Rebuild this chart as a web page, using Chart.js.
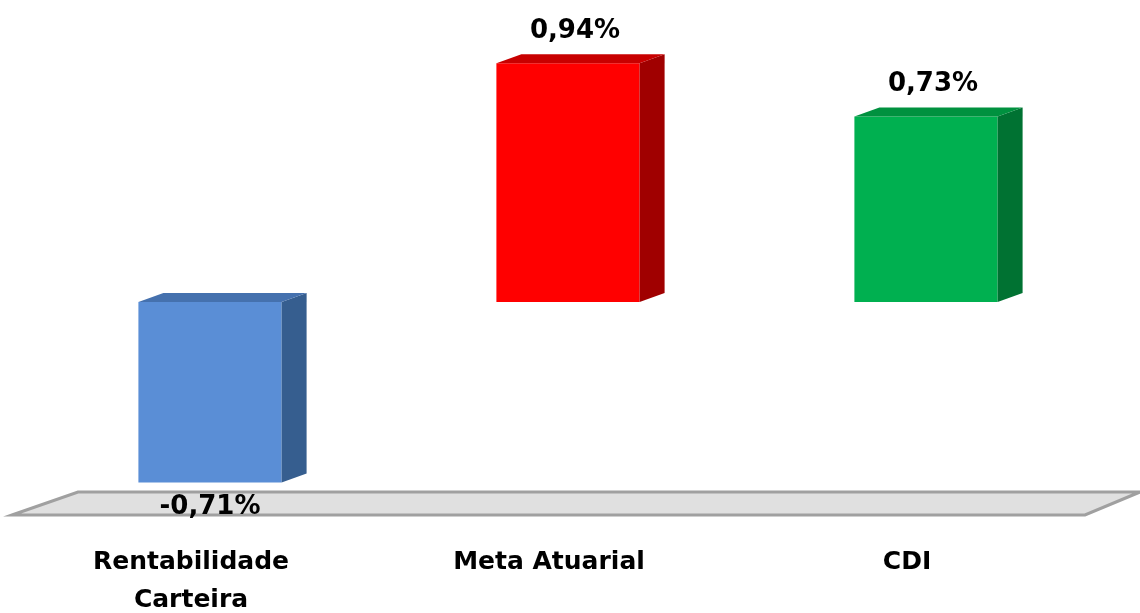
<!DOCTYPE html>
<html>
<head>
<meta charset="utf-8">
<script src="https://cdn.jsdelivr.net/npm/chart.js@4"></script>
<style>
  html, body { margin: 0; padding: 0; background: #fff; }
  #wrap { width: 1140px; height: 613px; }
</style>
</head>
<body>
<div id="wrap"><canvas id="chart" width="1140" height="613"></canvas></div>
<script>
// Data
const categories = [['Rentabilidade', 'Carteira'], 'Meta Atuarial', 'CDI'];
const values = [-0.71, 0.94, 0.73];

// Colours: front, side, top faces
const frontColors = ['#5A8ED6', '#FF0000', '#00B050'];
const sideColors = ['#365E8F', '#A00000', '#007232'];
const topColors = ['#4571AE', '#C80000', '#00913F'];

const FONT = '"DejaVu Sans", sans-serif';
const DX = 25, DY = 9; // 3D depth

function fmt(v) {
    return v.toFixed(2).replace('.', ',') + '%';
}

const bar3d = {
    id: 'bar3d',
    beforeDatasetsDraw(chart) {
        // grey floor
        const { ctx, chartArea } = chart;
        const yb = chartArea.bottom - 4;
        const yt = yb - 23;
        const xl = chartArea.left - 19;
        const xr = chartArea.right - 20;
        ctx.save();
        ctx.beginPath();
        ctx.moveTo(xl, yb);
        ctx.lineTo(xl + 66, yt);
        ctx.lineTo(xr + 55, yt);
        ctx.lineTo(xr, yb);
        ctx.closePath();
        ctx.fillStyle = '#E0E0E0';
        ctx.fill();
        ctx.lineWidth = 3;
        ctx.strokeStyle = '#A0A0A0';
        ctx.stroke();
        ctx.restore();
    },
    afterDatasetsDraw(chart) {
        const { ctx } = chart;
        const meta = chart.getDatasetMeta(0);
        ctx.save();
        meta.data.forEach((bar, i) => {
            const p = bar.getProps(['x', 'y', 'base', 'width'], true);
            const left = p.x - p.width / 2;
            const right = p.x + p.width / 2;
            const top = Math.min(p.y, p.base);
            const bottom = Math.max(p.y, p.base);
            // side face
            ctx.beginPath();
            ctx.moveTo(right, top);
            ctx.lineTo(right + DX, top - DY);
            ctx.lineTo(right + DX, bottom - DY);
            ctx.lineTo(right, bottom);
            ctx.closePath();
            ctx.fillStyle = sideColors[i];
            ctx.fill();
            // top face
            ctx.beginPath();
            ctx.moveTo(left, top);
            ctx.lineTo(left + DX, top - DY);
            ctx.lineTo(right + DX, top - DY);
            ctx.lineTo(right, top);
            ctx.closePath();
            ctx.fillStyle = topColors[i];
            ctx.fill();
        });
        // value labels
        ctx.font = 'bold 26px ' + FONT;
        ctx.fillStyle = '#000';
        ctx.textAlign = 'center';
        ctx.textBaseline = 'middle';
        meta.data.forEach((bar, i) => {
            const p = bar.getProps(['x', 'y', 'base'], true);
            if (values[i] >= 0) {
                ctx.fillText(fmt(values[i]), p.x + 7, p.y - 32);
            } else {
                ctx.fillText(fmt(values[i]), p.x, p.y + 25);
            }
        });
        ctx.restore();
    }
};

new Chart(document.getElementById('chart'), {
    type: 'bar',
    data: {
        labels: categories,
        datasets: [{
            data: values,
            backgroundColor: frontColors,
            borderWidth: 0,
            categoryPercentage: 1,
            barPercentage: 0.4
        }]
    },
    options: {
        responsive: false,
        animation: false,
        layout: { padding: { left: 31, right: 35, top: 0, bottom: -30 } },
        plugins: {
            legend: { display: false },
            tooltip: { enabled: false }
        },
        scales: {
            x: {
                grid: { display: false, drawTicks: false },
                border: { display: false },
                ticks: {
                    color: '#000',
                    font: { family: FONT, size: 25, weight: 'bold', lineHeight: '38px' },
                    padding: 24,
                    labelOffset: -19,
                    maxRotation: 0,
                    autoSkip: false
                }
            },
            y: {
                display: false,
                min: -0.854,
                max: 1.189
            }
        }
    },
    plugins: [bar3d]
});
</script>
</body>
</html>
